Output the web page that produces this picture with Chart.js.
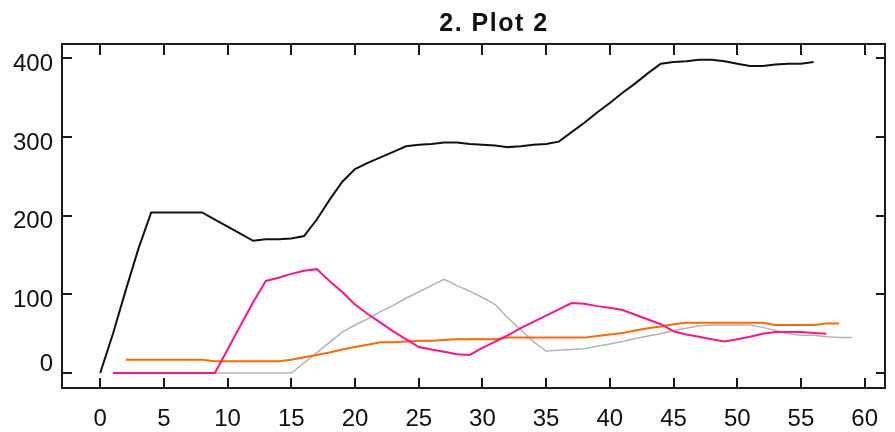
<!DOCTYPE html>
<html>
<head>
<meta charset="utf-8">
<script src="https://cdn.jsdelivr.net/npm/chart.js@4.4.1/dist/chart.umd.min.js"></script>
<style>
  html, body { margin: 0; padding: 0; background: #fff; }
</style>
</head>
<body>
<canvas id="plot" width="895" height="432"></canvas>
<script>
const titleText = "2. Plot 2";
const xTicks = [0, 5, 10, 15, 20, 25, 30, 35, 40, 45, 50, 55, 60];
const yTicks = [0, 100, 200, 300, 400];

// each series: first x value, then one value per step of 1
const blackStart = 0;
const blackVals = [0, 50, 105, 158, 204, 204, 204, 204, 204, 195, 186, 177, 168, 170, 170, 171, 174,
    195, 220, 243, 259, 267, 274, 281, 288, 290, 291, 293, 293, 291, 290, 289, 287, 288, 290, 291,
    294, 306, 318, 331, 343, 356, 368, 381, 393, 395, 396, 398, 398, 396, 393, 390, 390, 392, 393, 393, 395];

const pinkStart = 1;
const pinkVals = [0, 0, 0, 0, 0, 0, 0, 0, 0, 30, 60, 90, 117, 121, 126, 130, 132, 117, 103, 87, 75,
    64, 53, 43, 33, 30, 27, 24, 23, 32, 40, 48, 57, 65, 73, 81, 89, 88, 85, 83, 80, 74, 68, 62, 53,
    49, 46, 43, 40, 43, 46, 50, 52, 52, 52, 51, 50];

const grayStart = 1;
const grayVals = [0, 0, 0, 0, 0, 0, 0, 0, 0, 0, 0, 0, 0, 0, 0, 13, 26, 39, 52, 61, 69, 78, 86, 95,
    103, 111, 119, 111, 104, 96, 87, 70, 55, 40, 28, 29, 30, 31, 34, 37, 40, 44, 47, 50, 54, 57, 60,
    61, 61, 61, 61, 58, 54, 50, 48, 48, 46, 45, 45];

const orangeStart = 2;
const orangeVals = [17, 17, 17, 17, 17, 17, 17, 15, 15, 15, 15, 15, 15, 17, 20, 23, 26, 30, 33, 36,
    39, 39, 40, 41, 41, 42, 43, 43, 43, 43, 45, 45, 45, 45, 45, 45, 45, 47, 49, 51, 54, 57, 59, 62,
    64, 64, 64, 64, 64, 64, 64, 61, 61, 61, 61, 63, 63];

const toPoints = (start, vals) => vals.map((v, i) => ({ x: start + i, y: v }));

const tickFont = { family: "'Liberation Sans', Arial, sans-serif", size: 24 };

// box round the plot, ticks pointing inwards on all four sides, and the title
const framePlugin = {
    id: "frame",
    afterDraw(chart) {
        const { ctx, chartArea: a, scales } = chart;
        const line = (x1, y1, x2, y2) => {
            ctx.beginPath();
            ctx.moveTo(x1, y1);
            ctx.lineTo(x2, y2);
            ctx.stroke();
        };
        ctx.save();
        ctx.strokeStyle = "#1a1a1a";
        ctx.lineWidth = 2;
        ctx.strokeRect(a.left, a.top, a.right - a.left, a.bottom - a.top);
        scales.x.ticks.forEach(t => {
            const px = Math.round(scales.x.getPixelForValue(t.value));
            line(px, a.bottom, px, a.bottom - 10);
            line(px, a.top, px, a.top + 11);
        });
        scales.y.ticks.forEach(t => {
            const py = Math.round(scales.y.getPixelForValue(t.value));
            line(a.left, py, a.left + 10, py);
            line(a.right, py, a.right - 9, py);
        });
        ctx.fillStyle = "#111";
        ctx.font = "bold 25px 'Liberation Sans', Arial, sans-serif";
        ctx.letterSpacing = "1.5px";
        ctx.textAlign = "center";
        ctx.textBaseline = "middle";
        ctx.fillText(titleText, 494, 24);
        ctx.restore();
    }
};

const plot = new Chart(document.getElementById("plot"), {
    type: "line",
    plugins: [framePlugin],
    data: {
        datasets: [
            { data: toPoints(pinkStart, pinkVals), borderColor: "#ff158a", borderWidth: 2 },
            { data: toPoints(orangeStart, orangeVals), borderColor: "#ff6a00", borderWidth: 2 },
            { data: toPoints(grayStart, grayVals), borderColor: "#b4b4b4", borderWidth: 1.5 },
            { data: toPoints(blackStart, blackVals), borderColor: "#111111", borderWidth: 2 },
        ],
    },
    options: {
        responsive: false,
        devicePixelRatio: 1,
        animation: false,
        layout: { padding: { top: 44, right: 1, left: 0, bottom: 0 } },
        elements: { point: { radius: 0 }, line: { tension: 0 } },
        plugins: {
            legend: { display: false },
            tooltip: { enabled: false },
            title: { display: false },
        },
        scales: {
            x: {
                type: "linear",
                min: -3,
                max: 61.6,
                afterBuildTicks: (scale) => { scale.ticks = xTicks.map(v => ({ value: v })); },
                afterFit: (scale) => { scale.height = 44; },
                grid: { drawOnChartArea: false, drawTicks: false },
                border: { display: false },
                ticks: { font: tickFont, color: "#111", padding: 17, maxRotation: 0, autoSkip: false },
            },
            y: {
                type: "linear",
                min: -19,
                max: 418,
                afterBuildTicks: (scale) => { scale.ticks = yTicks.map(v => ({ value: v })); },
                afterFit: (scale) => { scale.width = 62; },
                grid: { drawOnChartArea: false, drawTicks: false },
                border: { display: false },
                ticks: {
                    font: tickFont,
                    color: "#111",
                    padding: 9,
                    labelOffset: 6,
                    callback: (v) => (v === 0 ? ["0", ""] : String(v)),
                },
            },
        },
    },
});
</script>
</body>
</html>
